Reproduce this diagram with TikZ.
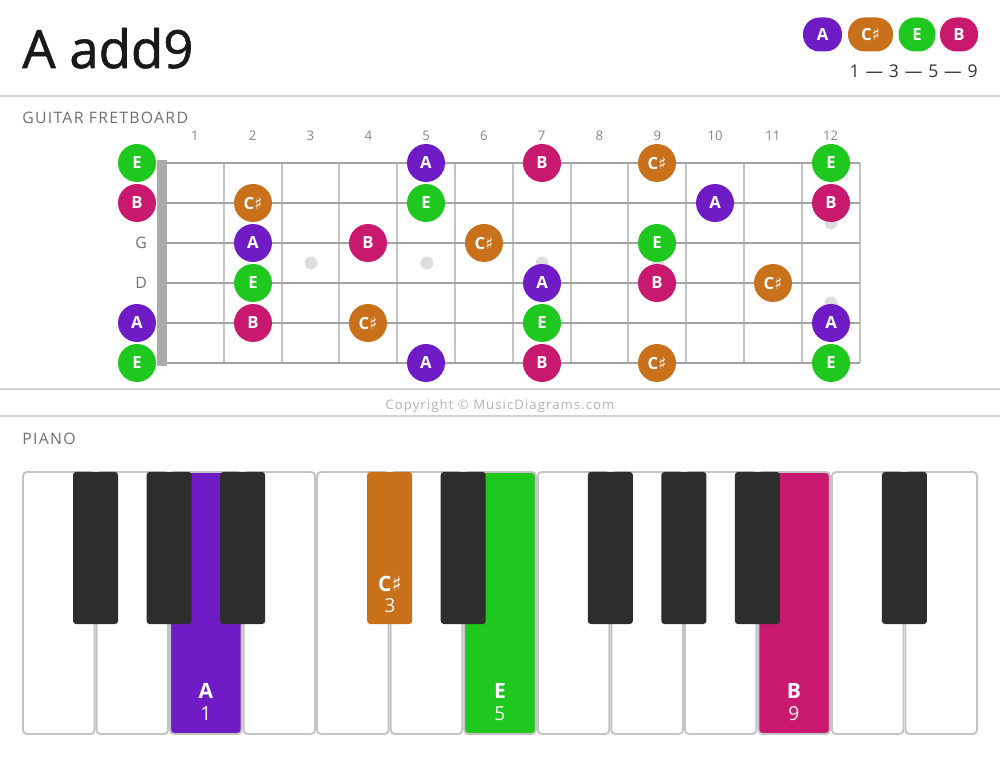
\documentclass[tikz,border=0pt]{standalone}
\usepackage{fontspec}
\setmainfont{Open Sans}
\newfontfamily\symfont{DejaVu Sans}
\newfontfamily\spacedfont[LetterSpace=8]{Open Sans}
\newfontfamily\titlefont[FakeBold=1.2]{Open Sans}
\usetikzlibrary{positioning}

\definecolor{chordA}{HTML}{6F1BC6}
\definecolor{chordCs}{HTML}{C8701A}
\definecolor{chordE}{HTML}{1EC81E}
\definecolor{chordB}{HTML}{C8196E}
\definecolor{rulegray}{HTML}{D2D2D2}
\definecolor{stringgray}{HTML}{A2A2A2}
\definecolor{fretgray}{HTML}{C4C4C4}
\definecolor{inlaygray}{HTML}{DDDDDD}
\definecolor{labelgray}{HTML}{707070}
\definecolor{keyblack}{HTML}{2D2D2D}

\newcommand{\shp}{{\symfont\char"266F}}
\newcommand{\notefont}{\fontsize{9.5}{11}\selectfont\bfseries}

\tikzset{
  note/.style={circle, inner sep=0pt, minimum size=0.76cm, text=white, font=\notefont},
  noteA/.style={note, fill=chordA},
  noteCs/.style={note, fill=chordCs},
  noteE/.style={note, fill=chordE},
  noteB/.style={note, fill=chordB},
  legendpill/.style={rectangle, rounded corners=0.33cm, inner sep=0pt, minimum height=0.68cm,
    text=white, font=\notefont, fill=#1},
  fretnum/.style={text=labelgray!85, font=\fontsize{7.5}{9}\selectfont},
  whitekey/.style={rounded corners=0.08cm, draw=fretgray, line width=1.1pt, fill=#1},
  blackkey/.style={rounded corners=0.06cm, fill=#1},
  keyname/.style={text=white, font=\fontsize{12}{14}\selectfont\bfseries},
  keydeg/.style={text=white!92!gray, font=\fontsize{11}{13}\selectfont}
}

\begin{document}
\begin{tikzpicture}[x=0.02cm, y=-0.02cm]
  \useasboundingbox (0,0) rectangle (1000,759);

  % header
  \node[anchor=base west, inner sep=0pt, text=black!90, font=\titlefont\fontsize{30}{34}\selectfont] (title) at (22,68) {A add9};
  \node[legendpill=chordA, minimum width=0.78cm] (legA) at (822.5,34.5) {A};
  \node[legendpill=chordCs, minimum width=0.90cm] (legCs) at (870.5,34.5) {C\shp};
  \node[legendpill=chordE, minimum width=0.74cm] (legE) at (917,34.5) {E};
  \node[legendpill=chordB, minimum width=0.76cm] (legB) at (959,34.5) {B};
  \node[anchor=east, inner sep=0pt, text=black!80, font=\fontsize{10}{12}\selectfont] (degrees) at (978,71) {1\,\,—\,\,3\,\,—\,\,5\,\,—\,\,9};
  \draw[rulegray, line width=1.2pt] (0,96) -- (1000,96);

  % fretboard
  \node[anchor=west, inner sep=0pt, text=labelgray, font=\spacedfont\fontsize{9}{11}\selectfont] (fretlabel) at (22,118) {GUITAR FRETBOARD};
  \foreach \n in {1,...,12}
    \node[fretnum] (num\n) at (137.1+57.8*\n,136) {\n};
  \foreach \k in {1,...,12}
    \draw[fretgray, line width=1.1pt] (166+57.8*\k,163) -- (166+57.8*\k,363);
  \foreach \x/\y in {311/263, 427/263, 542/263, 658/263, 831/223, 831/303}
    \fill[inlaygray] (\x,\y) circle (6.5);
  \foreach \y in {163,203,243,283,323,363}
    \draw[stringgray, line width=1.7pt] (157,\y) -- (860,\y);
  \fill[stringgray!90] (157,160) rectangle (167,366);
  \node[anchor=east, text=labelgray, font=\fontsize{9}{11}\selectfont] (strG) at (153,243) {G};
  \node[anchor=east, text=labelgray, font=\fontsize{9}{11}\selectfont] (strD) at (153,283) {D};

  % high E string
  \node[noteE]  (e1f0)  at (137,163) {E};
  \node[noteA]  (e1f5)  at (426,163) {A};
  \node[noteB]  (e1f7)  at (542,163) {B};
  \node[noteCs] (e1f9)  at (657,163) {C\shp};
  \node[noteE]  (e1f12) at (831,163) {E};
  % B string
  \node[noteB]  (b2f0)  at (137,203) {B};
  \node[noteCs] (b2f2)  at (253,203) {C\shp};
  \node[noteE]  (b2f5)  at (426,203) {E};
  \node[noteA]  (b2f10) at (715,203) {A};
  \node[noteB]  (b2f12) at (831,203) {B};
  % G string
  \node[noteA]  (g3f2)  at (253,243) {A};
  \node[noteB]  (g3f4)  at (368,243) {B};
  \node[noteCs] (g3f6)  at (484,243) {C\shp};
  \node[noteE]  (g3f9)  at (657,243) {E};
  % D string
  \node[noteE]  (d4f2)  at (253,283) {E};
  \node[noteA]  (d4f7)  at (542,283) {A};
  \node[noteB]  (d4f9)  at (657,283) {B};
  \node[noteCs] (d4f11) at (773,283) {C\shp};
  % A string
  \node[noteA]  (a5f0)  at (137,323) {A};
  \node[noteB]  (a5f2)  at (253,323) {B};
  \node[noteCs] (a5f4)  at (368,323) {C\shp};
  \node[noteE]  (a5f7)  at (542,323) {E};
  \node[noteA]  (a5f12) at (831,323) {A};
  % low E string
  \node[noteE]  (e6f0)  at (137,363) {E};
  \node[noteA]  (e6f5)  at (426,363) {A};
  \node[noteB]  (e6f7)  at (542,363) {B};
  \node[noteCs] (e6f9)  at (657,363) {C\shp};
  \node[noteE]  (e6f12) at (831,363) {E};

  % copyright
  \draw[rulegray, line width=1.2pt] (0,389) -- (1000,389);
  \node[text=black!30, font=\spacedfont\fontsize{7.5}{9}\selectfont] (copyright) at (500,406) {Copyright © MusicDiagrams.com};
  \draw[rulegray, line width=1.2pt] (0,416) -- (1000,416);

  % piano
  \node[anchor=west, inner sep=0pt, text=labelgray, font=\spacedfont\fontsize{9}{11}\selectfont] (pianolabel) at (22,439) {PIANO};
  \foreach \i/\c in {0/white, 1/white, 2/chordA, 3/white, 4/white, 5/white, 6/chordE,
                     7/white, 8/white, 9/white, 10/chordB, 11/white, 12/white}
    \draw[whitekey=\c] (23+73.54*\i,472) rectangle (21+73.54*\i+73.54,734);
  \foreach \i/\c in {1/keyblack, 2/keyblack, 3/keyblack, 5/chordCs, 6/keyblack,
                     8/keyblack, 9/keyblack, 10/keyblack, 12/keyblack}
    \fill[blackkey=\c] (22+73.54*\i-22.5,472) rectangle (22+73.54*\i+22.5,624);

  \node[keyname] (kA) at (206,691) {A};
  \node[keydeg]  (dA) at (206,714) {1};
  \node[keyname] (kCs) at (390,584) {C\shp};
  \node[keydeg]  (dCs) at (390,606) {3};
  \node[keyname] (kE) at (500,691) {E};
  \node[keydeg]  (dE) at (500,714) {5};
  \node[keyname] (kB) at (794,691) {B};
  \node[keydeg]  (dB) at (794,714) {9};
\end{tikzpicture}
\end{document}
